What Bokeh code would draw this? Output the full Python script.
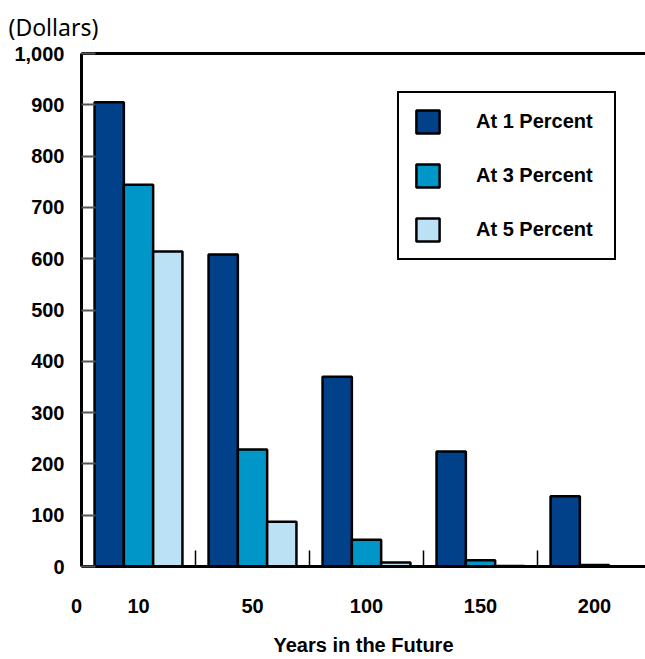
from bokeh.plotting import figure
from bokeh.models import (FixedTicker, NumeralTickFormatter, LinearAxis,
                          Legend, LegendItem, ColumnDataSource, Range1d)
from bokeh.embed import file_html
from bokeh.resources import INLINE

# ---- data ----
years = ["10", "50", "100", "150", "200"]
series_names = ["At 1 Percent", "At 3 Percent", "At 5 Percent"]
at_1_percent = [905, 608, 370, 224, 137]
at_3_percent = [744, 228, 52, 12, 3]
at_5_percent = [614, 87, 8, 1, 0]
y_ticks = [0, 100, 200, 300, 400, 500, 600, 700, 800, 900, 1000]
y_axis_title = "(Dollars)"
x_axis_title = "Years in the Future"
origin_label = "0"

# ---- styles ----
colors = ["#00418A", "#0096C8", "#BBE1F5"]
FONT = "Liberation Sans"
FS = "20px"
BAR_W = 0.257

centers = [i + 0.5 for i in range(len(years))]
boundaries = [i + 1.0 for i in range(len(years) - 1)]

p = figure(width=645, height=659,
           x_range=Range1d(0, 564 / 114), y_range=Range1d(y_ticks[0], y_ticks[-1]),
           output_backend="svg", toolbar_location=None,
           min_border_left=81, min_border_right=0,
           min_border_top=53, min_border_bottom=93)
p.outline_line_color = None
p.xgrid.visible = False
p.ygrid.visible = False
p.background_fill_color = "white"
p.border_fill_color = "white"

# title used as the y-unit caption
p.title.text = y_axis_title
p.title.align = "left"
p.title.vertical_align = "top"
p.title.offset = -73
p.title.text_font = "Noto Sans"
p.title.text_font_size = "23px"
p.title.text_font_style = "normal"
p.title.text_color = "black"
p.title.standoff = 17

series = [at_1_percent, at_3_percent, at_5_percent]
offsets = [-BAR_W, 0.0, BAR_W]
renderers = []
for vals, off, col in zip(series, offsets, colors):
    src = ColumnDataSource(dict(x=[c + off for c in centers], top=vals))
    r = p.vbar(x="x", top="top", bottom=0, width=BAR_W, source=src,
               fill_color=col, line_color="black", line_width=2.5)
    renderers.append(r)

# y axis
ya = p.yaxis[0]
ya.ticker = FixedTicker(ticks=y_ticks)
ya.formatter = NumeralTickFormatter(format="0,0")
ya.major_label_text_font = FONT
ya.major_label_text_font_size = FS
ya.major_label_text_font_style = "bold"
ya.major_label_text_color = "black"
ya.major_tick_in = 14
ya.major_tick_out = 0
ya.major_tick_line_color = "#555555"
ya.major_tick_line_width = 2
ya.minor_tick_line_color = None
ya.axis_line_width = 3
ya.axis_line_color = "black"
ya.major_label_standoff = 17

# x axis (labels at group centres, small ticks between groups)
xa = p.xaxis[0]
xa.ticker = FixedTicker(ticks=[0.0] + centers, minor_ticks=boundaries)
overrides = {c: y for c, y in zip(centers, years)}
overrides[0.0] = origin_label + "\u2002"
xa.major_label_overrides = overrides
xa.major_label_text_font = FONT
xa.major_label_text_font_size = FS
xa.major_label_text_font_style = "bold"
xa.major_label_text_color = "black"
xa.major_tick_in = 0
xa.major_tick_out = 0
xa.minor_tick_in = 16
xa.minor_tick_out = 0
xa.minor_tick_line_color = "black"
xa.minor_tick_line_width = 1.5
xa.axis_line_width = 3
xa.axis_line_color = "black"
xa.major_label_standoff = 28
xa.axis_label = x_axis_title
xa.axis_label_text_font = FONT
xa.axis_label_text_font_size = FS
xa.axis_label_text_font_style = "bold"
xa.axis_label_text_color = "black"
xa.axis_label_standoff = 14

# top frame line
top_axis = LinearAxis(ticker=FixedTicker(ticks=[]), major_label_text_font_size="0px",
                      major_tick_in=0, major_tick_out=0, minor_tick_line_color=None,
                      major_tick_line_color=None, axis_line_width=3, axis_line_color="black")
p.add_layout(top_axis, "above")

legend = Legend(items=[LegendItem(label=n, renderers=[r]) for n, r in zip(series_names, renderers)],
                location=(316, 306), glyph_width=29, glyph_height=29, spacing=25,
                padding=14, label_standoff=34, label_width=124, margin=0,
                label_text_font=FONT, label_text_font_size=FS,
                label_text_font_style="bold", label_text_color="black",
                border_line_color="black", border_line_width=2.5, border_line_alpha=1,
                background_fill_color="white", background_fill_alpha=1)
p.add_layout(legend)

open("out.html", "w").write(file_html(p, INLINE))
